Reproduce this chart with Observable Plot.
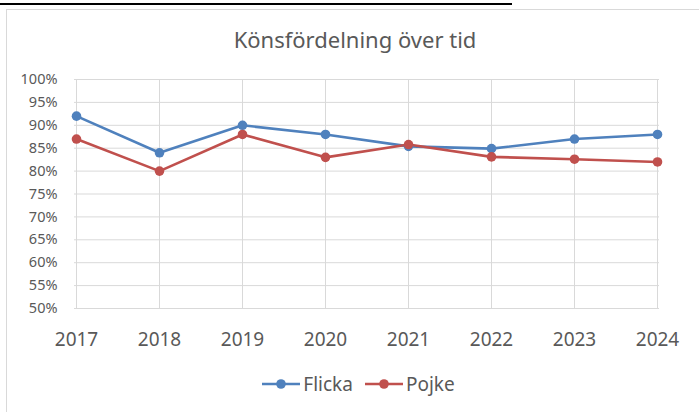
<!DOCTYPE html>
<html>
<head>
<meta charset="utf-8">
<script src="https://cdn.jsdelivr.net/npm/d3@7"></script>
<script src="https://cdn.jsdelivr.net/npm/@observablehq/plot@0.6"></script>
<style>
  html, body { margin: 0; padding: 0; background: #fff; }
  body { width: 699px; height: 412px; overflow: hidden; position: relative; font-family: "Noto Sans", sans-serif; color: #595959; }
  #topline { position: absolute; left: 0; top: 3px; width: 512px; height: 2px; background: #000; }
  #frame { position: absolute; left: 6px; top: 9px; width: 700px; height: 420px; border: 1px solid #d9d9d9; box-sizing: border-box; }
  #title { position: absolute; left: 0; top: 23px; width: 710px; text-align: center; font-size: 22px; line-height: 32px; color: #595959; }
  #chart { position: absolute; left: 0; top: 65px; }
  #legend { position: absolute; left: 0; top: 370px; width: 717px; text-align: center; font-size: 19px; line-height: 26px; color: #595959; white-space: nowrap; }
  .item { display: inline-flex; align-items: center; margin: 0 6px; }
  .item svg { margin-right: 3px; }
</style>
</head>
<body>
<div id="topline"></div>
<div id="frame"></div>
<div id="title">Könsfördelning över tid</div>
<div id="chart"></div>
<div id="legend"></div>
<script>
const years = [2017, 2018, 2019, 2020, 2021, 2022, 2023, 2024];
const flicka = [0.92, 0.84, 0.90, 0.88, 0.854, 0.849, 0.87, 0.88];
const pojke = [0.87, 0.80, 0.88, 0.83, 0.858, 0.831, 0.826, 0.82];
const seriesNames = ["Flicka", "Pojke"];
const seriesColors = ["#4f81bd", "#c0504d"];
const yTicks = [0.5, 0.55, 0.6, 0.65, 0.7, 0.75, 0.8, 0.85, 0.9, 0.95, 1.0];

const rows = [];
years.forEach((y, i) => {
  rows.push({year: String(y), value: flicka[i], series: "Flicka"});
  rows.push({year: String(y), value: pojke[i], series: "Pojke"});
});

const chart = Plot.plot({
  width: 699,
  height: 295,
  marginTop: 14,
  marginBottom: 52,
  marginLeft: 74,
  marginRight: 40,
  style: { fontFamily: "Noto Sans, sans-serif", color: "#595959", background: "transparent" },
  x: { type: "point", domain: years.map(String), padding: 0, label: null },
  y: { domain: [0.5, 1.0], label: null },
  color: { domain: seriesNames, range: seriesColors },
  marks: [
    Plot.ruleY(yTicks, { stroke: "#d9d9d9", strokeWidth: 1 }),
    Plot.ruleX(years.map(String), { stroke: "#d9d9d9", strokeWidth: 1 }),
    Plot.axisY({ ticks: yTicks, tickSize: 0, tickPadding: 17, label: null, tickFormat: d => Math.round(d * 100) + "%", fontSize: 14.5, fill: "#595959" }),
    Plot.axisX({ tickSize: 0, tickPadding: 24, label: null, fontSize: 19, fill: "#595959" }),
    Plot.line(rows, { x: "year", y: "value", z: "series", stroke: "series", strokeWidth: 2.6 }),
    Plot.dot(rows, { x: "year", y: "value", fill: "series", r: 4.8 })
  ]
});
document.getElementById("chart").appendChild(chart);

const legend = document.getElementById("legend");
seriesNames.forEach((name, i) => {
  const span = document.createElement("span");
  span.className = "item";
  span.innerHTML = `<svg width="38" height="12"><line x1="0" x2="38" y1="6" y2="6" stroke="${seriesColors[i]}" stroke-width="2.6"/><circle cx="19" cy="6" r="4.8" fill="${seriesColors[i]}"/></svg><span>${name}</span>`;
  legend.appendChild(span);
});
</script>
</body>
</html>
